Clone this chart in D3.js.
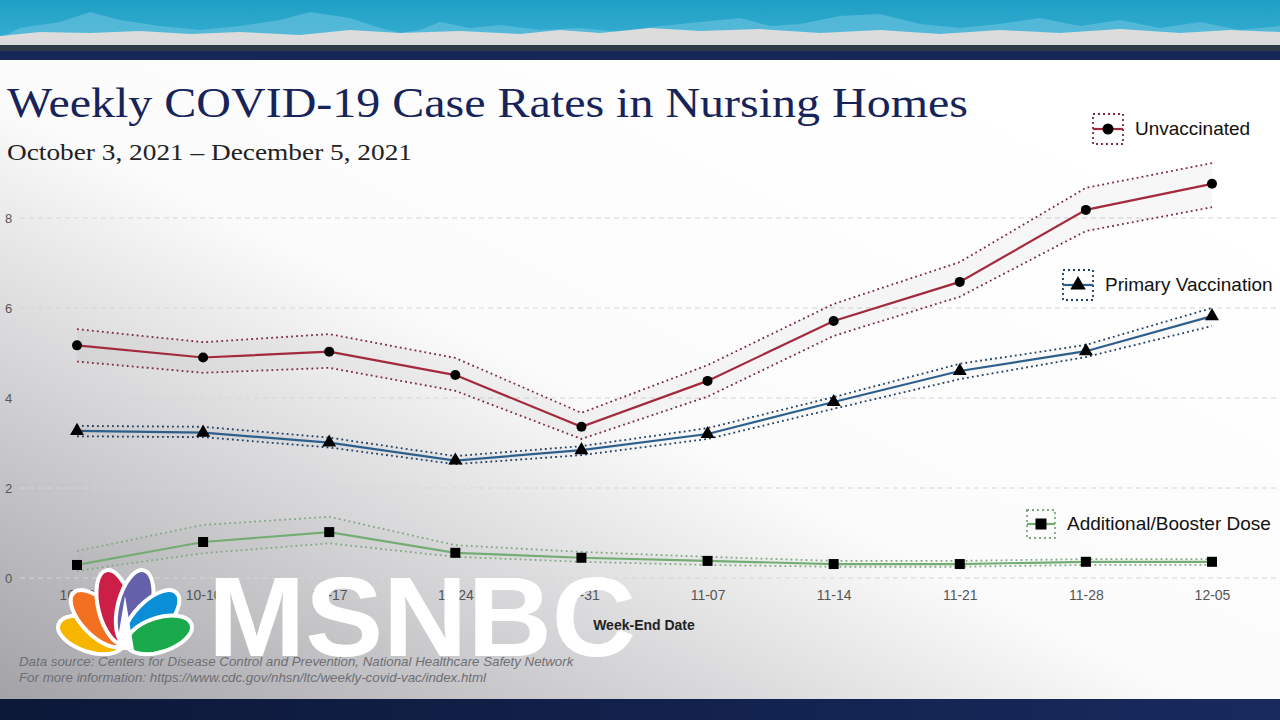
<!DOCTYPE html>
<html>
<head>
<meta charset="utf-8">
<script src="https://cdn.jsdelivr.net/npm/d3@7"></script>
<style>
  html, body { margin: 0; padding: 0; background: #fff; }
  svg { display: block; }
</style>
</head>
<body>
<svg id="frame" width="1280" height="720"></svg>
<script>
// week-end dates on the x axis
const weeks = ["10-03", "10-10", "10-17", "10-24", "10-31", "11-07", "11-14", "11-21", "11-28", "12-05"];
const yTicks = [0, 2, 4, 6, 8];

// case rates per series, with upper / lower confidence bounds
const unvax   = [5.17, 4.90, 5.03, 4.51, 3.36, 4.38, 5.71, 6.58, 8.18, 8.76];
const unvaxHi = [5.53, 5.24, 5.42, 4.89, 3.67, 4.73, 6.09, 7.02, 8.67, 9.22];
const unvaxLo = [4.81, 4.56, 4.67, 4.16, 3.09, 4.03, 5.38, 6.25, 7.71, 8.24];

const primary   = [3.27, 3.23, 3.01, 2.61, 2.84, 3.20, 3.91, 4.60, 5.04, 5.82];
const primaryHi = [3.38, 3.36, 3.12, 2.71, 2.93, 3.33, 4.02, 4.76, 5.18, 6.00];
const primaryLo = [3.15, 3.13, 2.90, 2.53, 2.73, 3.09, 3.76, 4.42, 4.91, 5.60];

const booster   = [0.29, 0.80, 1.02, 0.56, 0.45, 0.38, 0.31, 0.31, 0.36, 0.36];
const boosterHi = [0.60, 1.18, 1.36, 0.73, 0.58, 0.47, 0.38, 0.38, 0.42, 0.42];
const boosterLo = [0.16, 0.55, 0.77, 0.47, 0.36, 0.29, 0.25, 0.25, 0.29, 0.29];

const series = [
  { name: "Unvaccinated", vals: unvax, hi: unvaxHi, lo: unvaxLo, color: "#a3293d", ci: "#7a2a38", band: "rgba(0,0,0,0.03)", marker: "circle", legend: [1093, 114, 30] },
  { name: "Primary Vaccination", vals: primary, hi: primaryHi, lo: primaryLo, color: "#2d5f8c", ci: "#1f3d63", band: "rgba(0,0,0,0.015)", marker: "triangle", legend: [1063, 270, 30] },
  { name: "Additional/Booster Dose", vals: booster, hi: boosterHi, lo: boosterLo, color: "#74ad74", ci: "#80a880", band: "rgba(0,0,0,0.01)", marker: "square", legend: [1027, 510, 28] }
];

const svg = d3.select("#frame");
const defs = svg.append("defs");

// background shading (photo vignette)
let bg = defs.append("linearGradient").attr("id", "bg")
  .attr("x1", 0.85).attr("y1", 0.15).attr("x2", 0).attr("y2", 1);
bg.append("stop").attr("offset", 0).attr("stop-color", "#ffffff");
bg.append("stop").attr("offset", 0.45).attr("stop-color", "#fbfbfb");
bg.append("stop").attr("offset", 1).attr("stop-color", "#a2a2a7");
svg.append("rect").attr("x", 0).attr("y", 60).attr("width", 1280).attr("height", 640).attr("fill", "url(#bg)");

// top banner
let sky = defs.append("linearGradient").attr("id", "sky").attr("x1", 0).attr("y1", 0).attr("x2", 0).attr("y2", 1);
sky.append("stop").attr("offset", 0).attr("stop-color", "#1f9fc4");
sky.append("stop").attr("offset", 1).attr("stop-color", "#39b0d4");
svg.append("rect").attr("width", 1280).attr("height", 46).attr("fill", "url(#sky)");
svg.append("path")
  .attr("d", "M0,38 L20,28 L60,22 L90,12 L120,20 L160,26 L200,30 L240,26 L280,20 L310,12 L350,18 L380,28 L400,33 L420,30 L440,22 L470,28 L500,25 L540,30 L580,28 L620,32 L660,26 L700,22 L740,18 L770,26 L800,24 L840,16 L880,14 L920,24 L960,28 L1000,24 L1040,18 L1080,26 L1120,20 L1160,28 L1200,22 L1240,30 L1280,26 L1280,46 L0,46 Z")
  .attr("fill", "#6cc3df").attr("opacity", 0.6);
svg.append("path")
  .attr("d", "M0,36 L40,32 L90,33 L140,31 L190,34 L240,32 L300,35 L350,30 L400,33 L460,31 L520,34 L560,30 L600,33 L650,28 L700,31 L760,29 L820,33 L880,30 L940,34 L1000,30 L1060,33 L1120,29 L1180,33 L1230,30 L1280,32 L1280,46 L0,46 Z")
  .attr("fill", "#dcdcdc");
svg.append("rect").attr("y", 45).attr("width", 1280).attr("height", 6).attr("fill", "#2f3a44");
svg.append("rect").attr("y", 51).attr("width", 1280).attr("height", 9).attr("fill", "#17275a");

// bottom bar
let bot = defs.append("linearGradient").attr("id", "bot").attr("x1", 0).attr("y1", 0).attr("x2", 1).attr("y2", 0);
bot.append("stop").attr("offset", 0).attr("stop-color", "#0c1838");
bot.append("stop").attr("offset", 1).attr("stop-color", "#182a5e");
svg.append("rect").attr("y", 699).attr("width", 1280).attr("height", 21).attr("fill", "url(#bot)");

// titles
svg.append("text").attr("x", 7).attr("y", 117)
  .style("font-family", "'Liberation Serif', 'DejaVu Serif', serif").style("font-size", "43px")
  .attr("textLength", 961).attr("lengthAdjust", "spacingAndGlyphs")
  .attr("fill", "#16245a").text("Weekly COVID-19 Case Rates in Nursing Homes");
svg.append("text").attr("x", 7).attr("y", 160)
  .style("font-family", "'Liberation Serif', 'DejaVu Serif', serif").style("font-size", "24px")
  .attr("textLength", 405).attr("lengthAdjust", "spacingAndGlyphs")
  .attr("fill", "#222").text("October 3, 2021 \u2013 December 5, 2021");

// scales
const x = d3.scalePoint().domain(weeks).range([77, 1212]);
const y = d3.scaleLinear().domain([0, 8]).range([578, 218]);

// grid + y labels
svg.append("g").selectAll("line").data(yTicks).join("line")
  .attr("x1", 20).attr("x2", 1280)
  .attr("y1", d => y(d)).attr("y2", d => y(d))
  .attr("stroke", "#d6d6d6").attr("stroke-width", 1.2).attr("stroke-dasharray", "5,4");
svg.append("g").selectAll("text").data(yTicks).join("text")
  .attr("x", 5).attr("y", d => y(d) + 5)
  .style("font-family", "'Liberation Sans', Arial, sans-serif").style("font-size", "13px")
  .attr("fill", "#555").text(d => d);

// x axis labels
const xAxis = svg.append("g").attr("transform", "translate(0,586)")
  .call(d3.axisBottom(x).tickSize(0).tickPadding(0));
xAxis.select(".domain").remove();
xAxis.selectAll("text")
  .style("font-family", "'Liberation Sans', Arial, sans-serif").style("font-size", "14px")
  .attr("fill", "#555").attr("dy", "1em");
svg.append("text").attr("x", 644).attr("y", 630).attr("text-anchor", "middle")
  .style("font-family", "'Liberation Sans', Arial, sans-serif").style("font-size", "14px").style("font-weight", "bold")
  .attr("fill", "#222").text("Week-End Date");

// series
const line = d3.line().x((d, i) => x(weeks[i])).y(d => y(d));
const area = d3.area().x((d, i) => x(weeks[i])).y0(d => y(d[0])).y1(d => y(d[1]));

function drawMarker(g, type, cx, cy, s) {
  if (type === "circle") {
    g.append("circle").attr("cx", cx).attr("cy", cy).attr("r", s * 0.5).attr("fill", "#000");
  } else if (type === "triangle") {
    g.append("path").attr("d", d3.symbol(d3.symbolTriangle, s * s * 0.85)()).attr("transform", `translate(${cx},${cy})`).attr("fill", "#000");
  } else {
    g.append("rect").attr("x", cx - s / 2).attr("y", cy - s / 2).attr("width", s).attr("height", s).attr("fill", "#000");
  }
}

series.forEach(s => {
  const g = svg.append("g");
  g.append("path").datum(s.lo.map((v, i) => [v, s.hi[i]])).attr("d", area).attr("fill", s.band);
  [s.hi, s.lo].forEach(b => {
    g.append("path").datum(b).attr("d", line).attr("fill", "none")
      .attr("stroke", s.ci).attr("stroke-width", 1.8).attr("stroke-dasharray", "1.8,3.2");
  });
  g.append("path").datum(s.vals).attr("d", line).attr("fill", "none")
    .attr("stroke", s.color).attr("stroke-width", 2.2);
  s.vals.forEach((v, i) => drawMarker(g, s.marker, x(weeks[i]), y(v), 10));

  // legend
  const [lx, ly, ls] = s.legend;
  const lg = svg.append("g");
  lg.append("rect").attr("x", lx).attr("y", ly).attr("width", ls).attr("height", ls)
    .attr("fill", "none").attr("stroke", s.ci).attr("stroke-width", 1.8).attr("stroke-dasharray", "2,3");
  lg.append("line").attr("x1", lx).attr("x2", lx + ls).attr("y1", ly + ls / 2).attr("y2", ly + ls / 2)
    .attr("stroke", s.color).attr("stroke-width", 2.2);
  drawMarker(lg, s.marker, lx + ls / 2, ly + ls / 2, 11);
  lg.append("text").attr("x", lx + ls + 12).attr("y", ly + ls / 2 + 6)
    .style("font-family", "'Liberation Sans', Arial, sans-serif").style("font-size", "19px")
    .attr("fill", "#111").text(s.name);
});

// data source note
const note = svg.append("g")
  .style("font-family", "'Liberation Sans', Arial, sans-serif").style("font-size", "13.3px").style("font-style", "italic")
  .attr("fill", "#6e6e74");
note.append("text").attr("x", 19).attr("y", 666).text("Data source: Centers for Disease Control and Prevention, National Healthcare Safety Network");
note.append("text").attr("x", 19).attr("y", 682).text("For more information: https://www.cdc.gov/nhsn/ltc/weekly-covid-vac/index.html");

// network logo overlay
const logo = svg.append("g").attr("transform", "translate(125,646)");
const feathers = [
  { c: "#f7b500", a: -72, r: 34 },
  { c: "#f37021", a: -44, r: 36 },
  { c: "#cc1f47", a: -14, r: 38 },
  { c: "#6460aa", a: 14, r: 38 },
  { c: "#0a8fd6", a: 44, r: 36 },
  { c: "#1aaa4b", a: 72, r: 34 }
];
feathers.forEach(f => {
  logo.append("ellipse").attr("cx", 0).attr("cy", -f.r - 2).attr("rx", 17).attr("ry", f.r)
    .attr("transform", `rotate(${f.a})`)
    .attr("fill", f.c).attr("stroke", "#fff").attr("stroke-width", 4);
});
logo.append("path").attr("d", "M-9,4 L0,-50 L9,4 Z").attr("fill", "#fff");

svg.append("text").attr("x", 208).attr("y", 656)
  .style("font-family", "'Liberation Sans', Arial, sans-serif").style("font-size", "114px").style("font-weight", "bold")
  .attr("fill", "#fff").attr("textLength", 428).attr("lengthAdjust", "spacingAndGlyphs").text("MSNBC");
</script>
</body>
</html>
